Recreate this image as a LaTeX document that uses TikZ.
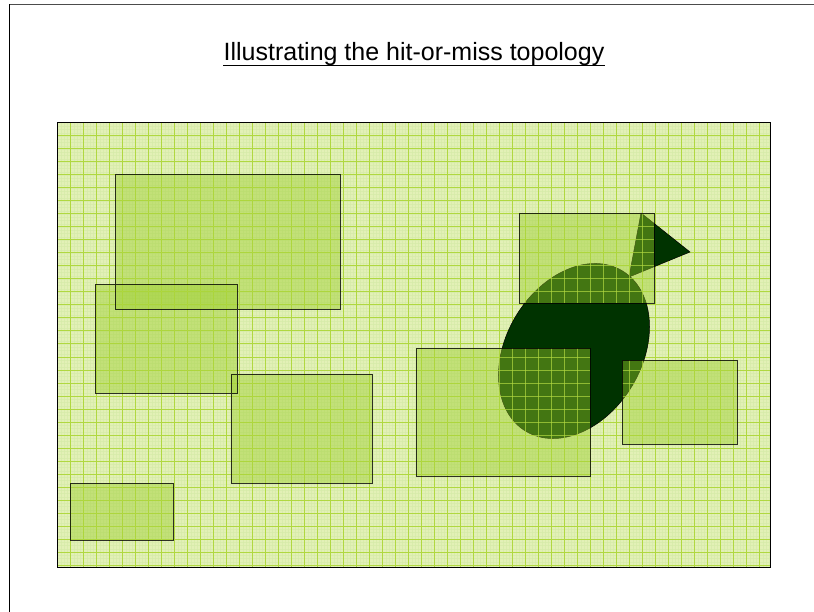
\documentclass[tikz,border=0pt]{standalone}
\usepackage{fontspec}
\setmainfont{Liberation Sans}
\definecolor{bgfill}{HTML}{E2F0B6}
\definecolor{minorc}{HTML}{D6EBA8}
\definecolor{majorc}{HTML}{B0D840}
\definecolor{rectc}{HTML}{9ACD2A}
\definecolor{darkc}{HTML}{003300}
\newcommand\hmminorgrid[1]{%
  \foreach \i in {1,...,219} \draw[#1] ({57.5+3.25*\i},123) -- ({57.5+3.25*\i},567);
  \foreach \i in {1,...,136} \draw[#1] (57.5,{123+3.25*\i}) -- (770,{123+3.25*\i});
}
\newcommand\hmmajorgrid[1]{%
  \foreach \i in {1,...,54} \draw[#1] ({57.5+13*\i},123) -- ({57.5+13*\i},567);
  \foreach \i in {1,...,34} \draw[#1] (57.5,{123+13*\i}) -- (770,{123+13*\i});
}
\newcommand\hmrects{%
  (115,174) rectangle (340,309)
  (95,284) rectangle (237,393)
  (231,374) rectangle (372,483)
  (70,483) rectangle (173,540)
  (416,348) rectangle (590,476)
  (519,213) rectangle (654,303)
  (622,360) rectangle (737,444)
}
\tikzset{
  minorline/.style={minorc, line width=0.4pt, draw opacity=0.7},
  majorline/.style={majorc, line width=1pt},
  majorline2/.style={majorc, line width=1pt, draw opacity=0.7},
  darkshape/.style={fill=darkc, draw=black, line width=0.5pt},
  setbox/.style={fill=rectc, fill opacity=0.44},
  setedge/.style={draw=black, draw opacity=0.8, line width=0.9pt},
  titletext/.style={font=\fontsize{25}{30}\selectfont, anchor=base, inner sep=0pt}
}
\begin{document}
\begin{tikzpicture}[x=1pt, y=-1pt]
\useasboundingbox (0,0) rectangle (814,612);
\fill[white] (0,0) rectangle (814,612);
% frame
\draw[line width=1pt, color=black!70] (9.3,4.3) -- (814,4.3);
\draw[line width=1pt, color=black] (9.3,4.3) -- (9.3,612);
% title
\node[titletext] (title) at (414,61) {Illustrating the hit-or-miss topology};
\draw[line width=1.4pt] ([yshift=-4.5pt]title.base west) -- ([yshift=-4.5pt]title.base east);
% space
\fill[bgfill] (57.5,123) rectangle (770,567);
\begin{scope}
  \clip (57.5,123) rectangle (770,567);
  \hmminorgrid{minorline}
  \hmmajorgrid{majorline}
\end{scope}
% dark set (ellipse and triangle)
\draw[darkshape, rotate around={59:(574,351)}] (574,351) ellipse [x radius=93.6, y radius=67.8];
\draw[darkshape] (641,213) -- (690,252) -- (629,277) -- cycle;
% compact sets
\foreach \r in {{(115,174) rectangle (340,309)},{(95,284) rectangle (237,393)},{(231,374) rectangle (372,483)},{(70,483) rectangle (173,540)},{(416,348) rectangle (590,476)},{(519,213) rectangle (654,303)},{(622,360) rectangle (737,444)}}
  \fill[setbox] \r;
\begin{scope}
  \clip \hmrects;
  \hmmajorgrid{majorline2}
\end{scope}
\draw[setedge] \hmrects;
\draw[line width=1pt] (57.5,123) rectangle (770,567);
\end{tikzpicture}
\end{document}
